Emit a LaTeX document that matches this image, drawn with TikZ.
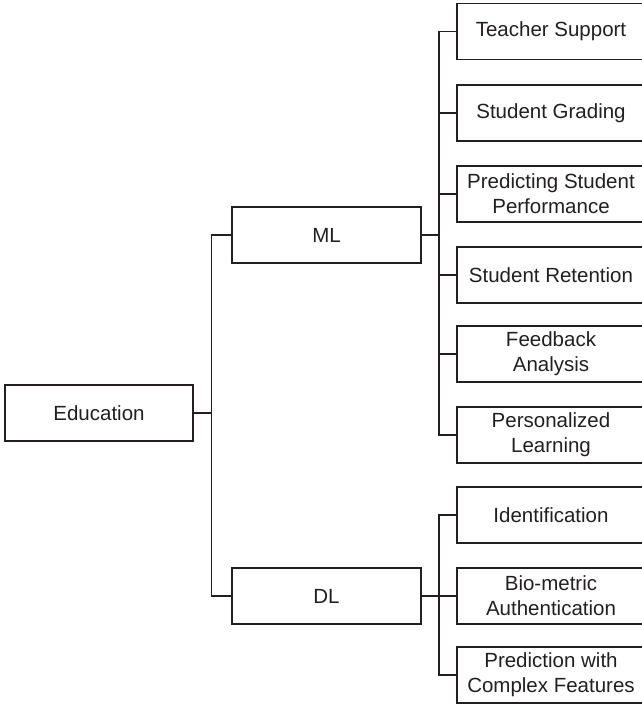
\documentclass[tikz,border=0pt]{standalone}
\usepackage{fontspec}
\setmainfont{Liberation Sans}
\definecolor{ink}{HTML}{231F20}
\begin{document}
\begin{tikzpicture}[x=1pt,y=-1pt,
  box/.style={draw=ink, line width=1.3pt, rectangle, align=center,
    text=ink, font=\fontsize{20.5}{25}\selectfont, inner sep=0pt,
    minimum height=56pt},
  rootbox/.style={box, minimum width=188pt},
  midbox/.style={box, minimum width=189pt},
  leafbox/.style={box, minimum width=188pt},
  link/.style={draw=ink, line width=1.3pt}]
\useasboundingbox (0,0) rectangle (641,704);

% root
\node[rootbox] (edu) at (99,413) {Education};

% second level
\node[midbox] (ml) at (326.5,235) {ML};
\node[midbox] (dl) at (326.5,596) {DL};

% ML leaves (their right sides run past the page edge)
\node[leafbox] (ts)  at (551,31.5) {Teacher Support};
\node[leafbox] (sg)  at (551,113)  {Student Grading};
\node[leafbox] (psp) at (551,194)  {Predicting Student\\Performance};
\node[leafbox] (sr)  at (551,275)  {Student Retention};
\node[leafbox] (fa)  at (551,354)  {Feedback\\Analysis};
\node[leafbox] (pl)  at (551,435)  {Personalized\\Learning};

% DL leaves
\node[leafbox] (id)  at (551,515)  {Identification};
\node[leafbox] (bio) at (551,596)  {Bio-metric\\Authentication};
\node[leafbox] (pcf) at (551,675)  {Prediction with\\Complex Features};

% trunk positions
\coordinate (jA) at (211.5,0);
\coordinate (jB) at (439,0);

% root to second level
\draw[link] (edu.east) -- (edu.east -| jA);
\draw[link] (ml.west) -- (ml.west -| jA) -- (dl.west -| jA) -- (dl.west);

% ML branch
\draw[link] (ml.east) -- (ml.east -| jB);
\draw[link] (ts.west) -- (ts.west -| jB) -- (pl.west -| jB) -- (pl.west);
\foreach \n in {sg,psp,sr,fa}
  \draw[link] (\n.west) -- (\n.west -| jB);

% DL branch
\draw[link] (dl.east) -- (dl.east -| jB);
\draw[link] (id.west) -- (id.west -| jB) -- (pcf.west -| jB) -- (pcf.west);
\draw[link] (bio.west) -- (bio.west -| jB);
\end{tikzpicture}
\end{document}
